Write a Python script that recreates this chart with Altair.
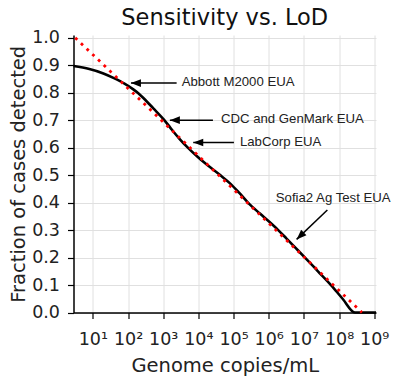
import altair as alt
import pandas as pd

# ---- data ----
curve_exp = [0.45, 0.90, 1.30, 1.60, 1.90, 2.15, 2.30, 2.45, 2.72, 3.02, 3.20, 3.45, 3.70,
             4.00, 4.30, 4.61, 4.90, 5.15, 5.41, 5.75, 6.00, 6.27, 6.50, 6.75, 7.03, 7.40,
             7.77, 8.10, 8.45, 9.05]
curve_frac = [0.897, 0.886, 0.870, 0.853, 0.833, 0.812, 0.797, 0.779, 0.743, 0.702, 0.673,
              0.634, 0.600, 0.564, 0.532, 0.501, 0.470, 0.437, 0.400, 0.360, 0.332, 0.300,
              0.270, 0.237, 0.200, 0.150, 0.100, 0.050, 0.000, 0.000]

ref_copies = [3.16, 4.47e8]
ref_frac = [1.0, 0.0]

ann_labels = ["Abbott M2000 EUA", "CDC and GenMark EUA", "LabCorp EUA", "Sofia2 Ag Test EUA"]
ann_text_exp = [3.524, 4.641, 5.181, 6.20]
ann_text_frac = [0.838, 0.703, 0.619, 0.418]
ann_tip_exp = [2.083, 3.19, 3.854, 6.793]
ann_tip_frac = [0.835, 0.700, 0.619, 0.266]
ann_tail_exp = [3.382, 4.414, 5.011, 7.667]
ann_tail_frac = [0.835, 0.700, 0.619, 0.373]
ann_head_angle = [0, 0, 0, 316]

x_ticks = [1e1, 1e2, 1e3, 1e4, 1e5, 1e6, 1e7, 1e8, 1e9]
y_ticks = [0.0, 0.1, 0.2, 0.3, 0.4, 0.5, 0.6, 0.7, 0.8, 0.9, 1.0]

# ---- tables ----
curve_df = pd.DataFrame({"copies": [10 ** e for e in curve_exp], "frac": curve_frac})
ref_df = pd.DataFrame({"copies": ref_copies, "frac": ref_frac})
ann_df = pd.DataFrame({
    "label": ann_labels,
    "tx": [10 ** e for e in ann_text_exp], "ty": ann_text_frac,
    "hx": [10 ** e for e in ann_tip_exp], "hy": ann_tip_frac,
    "bx": [10 ** e for e in ann_tail_exp], "by": ann_tail_frac,
    "angle": ann_head_angle,
})

xscale = alt.Scale(type="log", domain=[10 ** 0.45, 10 ** 9.05], nice=False)
yscale = alt.Scale(domain=[0, 1.01], nice=False, zero=False)

sup = "['\u2070','\u00b9','\u00b2','\u00b3','\u2074','\u2075','\u2076','\u2077','\u2078','\u2079']"
xaxis = alt.Axis(values=x_ticks, title="Genome copies/mL",
                 labelExpr="'10' + " + sup + "[round(log(datum.value)/LN10)]",
                 labelOverlap=False, labelFlush=False, labelBaseline="alphabetic",
                 labelPadding=25.5, titleY=59.2, titleBaseline="alphabetic")
yaxis = alt.Axis(values=y_ticks, format=".1f", title="Fraction of cases detected",
                 labelPadding=8, titleX=-49.5, titleY=138.75, titleAngle=270,
                 titleAlign="center", titleBaseline="alphabetic")


def X(field):
    return alt.X(field + ":Q", scale=xscale, axis=xaxis)


def Y(field):
    return alt.Y(field + ":Q", scale=yscale, axis=yaxis)


curve = alt.Chart(curve_df).mark_line(color="black", strokeWidth=2.6, interpolate="monotone").encode(
    x=X("copies"), y=Y("frac"))

ref = alt.Chart(ref_df).mark_line(color="#ff0000", strokeWidth=2.8, strokeDash=[2.8, 5.1]).encode(
    x=X("copies"), y=Y("frac"))

shafts = alt.Chart(ann_df).mark_rule(color="black", strokeWidth=1.5).encode(
    x=X("hx"), x2="bx:Q", y=Y("hy"), y2="by:Q")

heads = alt.Chart(ann_df).mark_point(
    shape="M0,0 L2,-0.76 L2,0.76 Z", filled=True, size=100, color="black", opacity=1, strokeWidth=0
).encode(x=X("hx"), y=Y("hy"), angle=alt.Angle("angle:Q", scale=None))

texts = alt.Chart(ann_df).mark_text(
    align="left", baseline="middle", font="Liberation Sans", fontSize=13.2, color="#222222"
).encode(x=X("tx"), y=Y("ty"), text="label:N")

chart = alt.layer(curve, ref, shafts, heads, texts).properties(
    width=302.5, height=277.5,
    autosize=alt.AutoSizeParams(type="none"),
    padding={"left": 65.5, "top": 27, "right": 16, "bottom": 64},
    title=alt.Title("Sensitivity vs. LoD", fontSize=22.5, font="DejaVu Sans", fontWeight="normal",
                    color="#111111", anchor="middle", offset=4, dy=5),
).configure_view(stroke=None).configure_axis(
    domainColor="black", domainWidth=1.5, tickColor="black", tickWidth=1.2, tickSize=6,
    labelFont="DejaVu Sans", labelFontSize=17.5, labelColor="#222222",
    titleFont="DejaVu Sans", titleFontSize=19.5, titleFontWeight="normal", titleColor="#222222",
    grid=True, gridColor="#e0e0e0", gridWidth=1,
)

chart.save("out.html", embed_options={"renderer": "svg", "actions": False})
